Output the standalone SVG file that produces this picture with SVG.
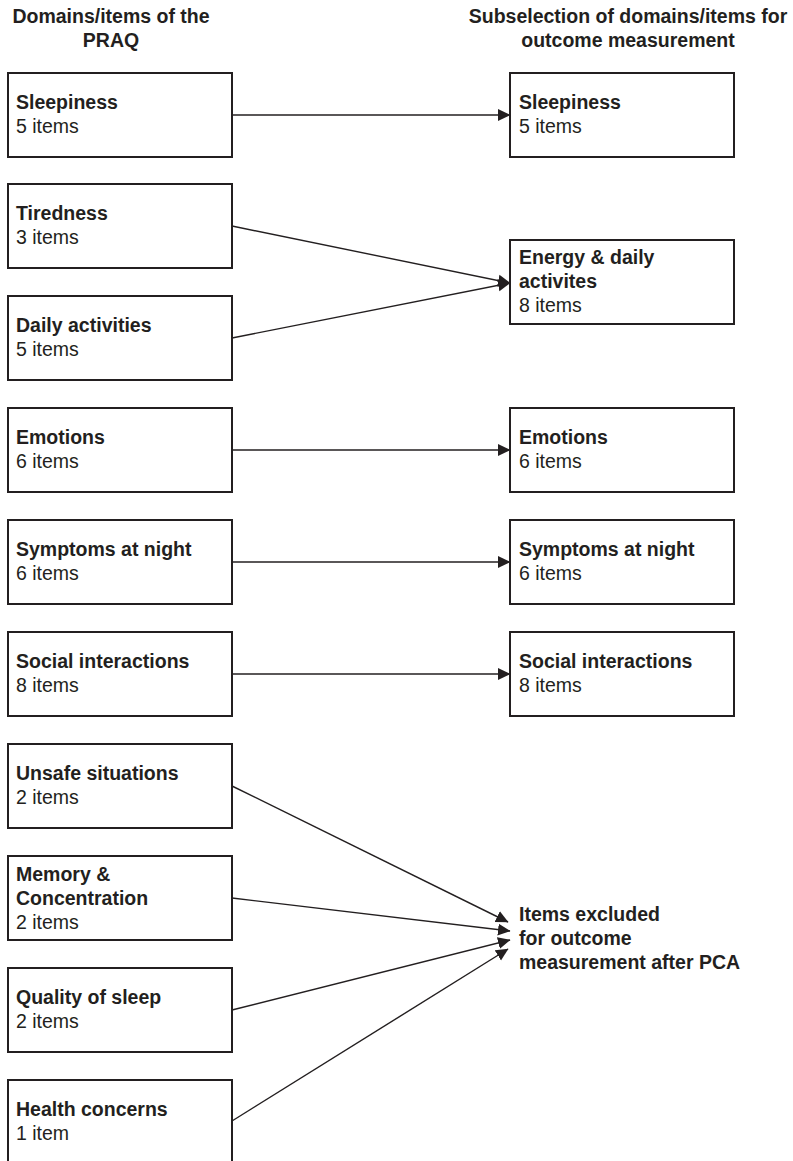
<svg xmlns="http://www.w3.org/2000/svg" width="793" height="1161" viewBox="0 0 793 1161">
<style>
text{font-family:"Liberation Sans",Arial,sans-serif;font-size:19.5px;fill:#231f20}
.b{font-weight:bold}
.h{font-weight:bold;text-anchor:middle}
.box{fill:#fff;stroke:#231f20;stroke-width:2}
.c line{stroke:#231f20;stroke-width:1.4;fill:none}
</style>
<defs>
<marker id="ah" markerUnits="userSpaceOnUse" markerWidth="14" markerHeight="13" refX="12" refY="6.5" orient="auto"><path d="M0,0.5 L12.5,6.5 L0,12.5 Z" fill="#231f20"/></marker>
</defs>
<rect width="793" height="1161" fill="#fff"/>
<g id="header-left"><text class="h" x="111" y="23">Domains/items of the</text><text class="h" x="111" y="47">PRAQ</text></g>
<g id="header-right"><text class="h" x="628" y="23">Subselection of domains/items for</text><text class="h" x="628" y="47">outcome measurement</text></g>

<g class="c" id="connectors">
<line x1="232" y1="115" x2="510" y2="115" marker-end="url(#ah)"/>
<line x1="232" y1="226" x2="510" y2="283" marker-end="url(#ah)"/>
<line x1="232" y1="338" x2="510" y2="283" marker-end="url(#ah)"/>
<line x1="232" y1="450" x2="510" y2="450" marker-end="url(#ah)"/>
<line x1="232" y1="562" x2="510" y2="562" marker-end="url(#ah)"/>
<line x1="232" y1="674" x2="510" y2="674" marker-end="url(#ah)"/>
<line x1="232" y1="786" x2="508" y2="922" marker-end="url(#ah)"/>
<line x1="232" y1="898" x2="510" y2="931" marker-end="url(#ah)"/>
<line x1="232" y1="1010" x2="510" y2="940" marker-end="url(#ah)"/>
<line x1="232" y1="1121" x2="508" y2="949" marker-end="url(#ah)"/>
</g>

<g id="l-sleepiness"><rect class="box" x="8" y="73" width="224" height="84"/><text class="b" x="16" y="109">Sleepiness</text><text x="16" y="133">5 items</text></g>
<g id="l-tiredness"><rect class="box" x="8" y="184" width="224" height="84"/><text class="b" x="16" y="220">Tiredness</text><text x="16" y="244">3 items</text></g>
<g id="l-daily"><rect class="box" x="8" y="296" width="224" height="84"/><text class="b" x="16" y="332">Daily activities</text><text x="16" y="356">5 items</text></g>
<g id="l-emotions"><rect class="box" x="8" y="408" width="224" height="84"/><text class="b" x="16" y="444">Emotions</text><text x="16" y="468">6 items</text></g>
<g id="l-symptoms"><rect class="box" x="8" y="520" width="224" height="84"/><text class="b" x="16" y="556">Symptoms at night</text><text x="16" y="580">6 items</text></g>
<g id="l-social"><rect class="box" x="8" y="632" width="224" height="84"/><text class="b" x="16" y="668">Social interactions</text><text x="16" y="692">8 items</text></g>
<g id="l-unsafe"><rect class="box" x="8" y="744" width="224" height="84"/><text class="b" x="16" y="780">Unsafe situations</text><text x="16" y="804">2 items</text></g>
<g id="l-memory"><rect class="box" x="8" y="856" width="224" height="84"/><text class="b" x="16" y="881">Memory &amp;</text><text class="b" x="16" y="905">Concentration</text><text x="16" y="929">2 items</text></g>
<g id="l-quality"><rect class="box" x="8" y="968" width="224" height="84"/><text class="b" x="16" y="1004">Quality of sleep</text><text x="16" y="1028">2 items</text></g>
<g id="l-health"><rect class="box" x="8" y="1080" width="224" height="84"/><text class="b" x="16" y="1116">Health concerns</text><text x="16" y="1140">1 item</text></g>

<g id="r-sleepiness"><rect class="box" x="510" y="73" width="224" height="84"/><text class="b" x="519" y="109">Sleepiness</text><text x="519" y="133">5 items</text></g>
<g id="r-energy"><rect class="box" x="510" y="240" width="224" height="84"/><text class="b" x="519" y="264">Energy &amp; daily</text><text class="b" x="519" y="288">activites</text><text x="519" y="312">8 items</text></g>
<g id="r-emotions"><rect class="box" x="510" y="408" width="224" height="84"/><text class="b" x="519" y="444">Emotions</text><text x="519" y="468">6 items</text></g>
<g id="r-symptoms"><rect class="box" x="510" y="520" width="224" height="84"/><text class="b" x="519" y="556">Symptoms at night</text><text x="519" y="580">6 items</text></g>
<g id="r-social"><rect class="box" x="510" y="632" width="224" height="84"/><text class="b" x="519" y="668">Social interactions</text><text x="519" y="692">8 items</text></g>
<g id="r-excluded"><text class="b" x="519" y="921">Items excluded</text><text class="b" x="519" y="945">for outcome</text><text class="b" x="519" y="969">measurement after PCA</text></g>
</svg>
